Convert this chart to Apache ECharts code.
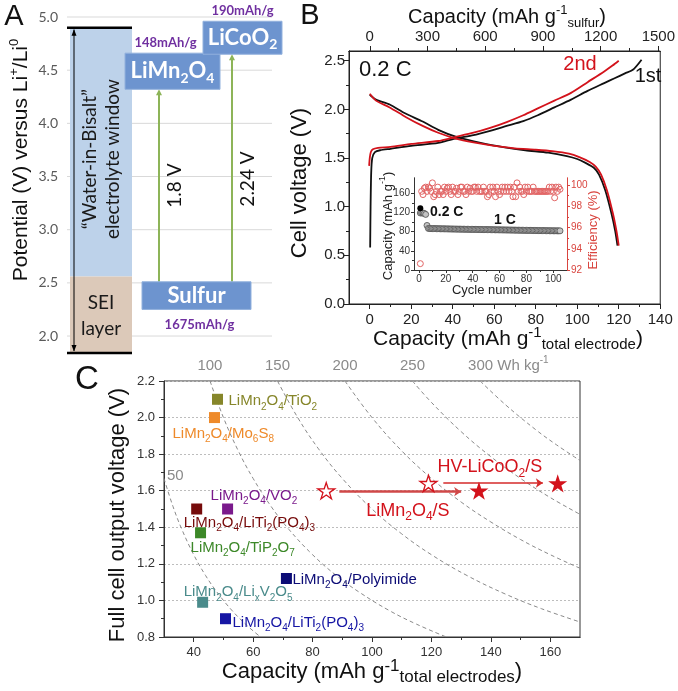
<!DOCTYPE html>
<html>
<head>
<meta charset="utf-8">
<script src="https://cdn.jsdelivr.net/npm/echarts@6.0.0/dist/echarts.min.js"></script>
<style>html,body{margin:0;padding:0;background:#fff;}#chart{width:678px;height:691px;}</style>
</head>
<body>
<div id="chart"></div>
<script>
// ================= DATA =================
// ---- Panel A: potential (V vs Li+/Li0) ----
const aTickValues = [2.0, 2.5, 3.0, 3.5, 4.0, 4.5, 5.0];
const aWindowTop = 4.90;
const aSeiTop = 2.56;
const aFloor = 1.84;
const aMaterials = ['LiMn_2O_4', 'LiCoO_2', 'Sulfur'];
const aPotLow = [4.32, 4.65, 2.25];
const aPotHigh = [4.66, 4.96, 2.51];
const aSpecificCap = ['148mAh/g', '190mAh/g', '1675mAh/g'];
const aCellVoltage = ['1.8 V', '2.24 V'];

// ---- Panel B: voltage profiles (capacity mAh/g total electrode, V) ----
const bDis1Cap = [0, 3, 9.6, 17, 25.5, 33, 41.4, 54, 65, 75, 86, 95, 100, 104, 108, 110.5, 113.5, 116.5, 118.3, 119.4];
const bDis1V   = [2.15, 2.10, 2.05, 1.96, 1.875, 1.79, 1.72, 1.653, 1.61, 1.58, 1.555, 1.52, 1.49, 1.45, 1.40, 1.33, 1.17, 0.93, 0.75, 0.60];
const bDis2Cap = [0, 3, 9.6, 17.5, 25.5, 33, 41.4, 50, 60, 70, 80, 88, 96, 101, 106, 109, 111.5, 114.3, 117.2, 118.9, 120];
const bDis2V   = [2.16, 2.09, 2.02, 1.92, 1.83, 1.76, 1.70, 1.66, 1.625, 1.60, 1.585, 1.57, 1.545, 1.51, 1.46, 1.41, 1.33, 1.17, 0.93, 0.75, 0.60];
const bCh1Cap  = [0.2, 0.4, 0.7, 1.2, 2.5, 5, 10, 20, 33, 41, 50, 58, 66, 74, 81, 89, 97, 105, 113, 118, 123, 127, 131];
const bCh1V    = [0.58, 1.0, 1.35, 1.50, 1.56, 1.58, 1.595, 1.625, 1.655, 1.70, 1.735, 1.78, 1.83, 1.88, 1.94, 2.02, 2.10, 2.19, 2.27, 2.32, 2.37, 2.41, 2.51];
const bCh2Cap  = [-0.3, 0, 0.5, 1.5, 4, 10, 20, 33, 41, 50, 58, 66, 74, 81, 89, 97, 105, 113, 117, 120];
const bCh2V    = [1.42, 1.50, 1.56, 1.59, 1.605, 1.615, 1.645, 1.675, 1.715, 1.76, 1.81, 1.87, 1.94, 2.01, 2.09, 2.17, 2.28, 2.39, 2.45, 2.50];
const bBottomTicks = [0, 20, 40, 60, 80, 100, 120, 140];
const bTopTicks = [0, 300, 600, 900, 1200, 1500];
const bVoltTicks = [0, 0.5, 1.0, 1.5, 2.0, 2.5];

// ---- Inset: cycling ----
const insetCapacity = [119, 119, 119, 118, 116, 93,
  86.8,86.6,86.5,86.4,86.4,86.3,86.2,86.2,86.1,86.0,
  86.0,85.9,85.9,85.8,85.8,85.7,85.6,85.6,85.5,85.5,
  85.4,85.4,85.3,85.3,85.2,85.2,85.1,85.1,85.0,85.0,
  84.9,84.9,84.8,84.8,84.7,84.7,84.6,84.6,84.5,84.5,
  84.4,84.4,84.3,84.3,84.2,84.2,84.1,84.1,84.0,84.0,
  83.9,83.9,83.8,83.8,83.7,83.7,83.6,83.6,83.5,83.5,
  83.4,83.4,83.3,83.3,83.2,83.2,83.1,83.1,83.0,83.0,
  82.9,82.9,82.8,82.8,82.7,82.7,82.6,82.6,82.5,82.5,
  82.4,82.4,82.3,82.3,82.2,82.2,82.1,82.1,82.0,82.0,
  81.9,81.9,81.9,81.8,81.8,81.8,81.7,81.7,81.7];
const insetFirstCycleCapacity = 129;
const insetEfficiency = [
  92.6, 99.4, 99.1, 99.7, 99.8, 99.4, 99.8, 99.7, 99.4, 100.2,
  98.9, 99.1, 99.4, 99.8, 99.1, 99.4, 99.4, 99.1, 99.8, 99.4,
  99.7, 99.8, 99.4, 99.1, 99.8, 99.4, 99.4, 99.7, 99.1, 99.4,
  99.8, 99.8, 99.4, 99.4, 99.1, 99.8, 99.4, 99.7, 99.4, 99.4,
  99.8, 99.8, 99.4, 99.8, 99.4, 99.4, 99.4, 99.8, 99.4, 99.4,
  98.9, 99.1, 99.8, 99.4, 99.8, 99.4, 98.9, 99.8, 99.4, 99.1,
  99.4, 99.8, 99.4, 99.8, 99.4, 99.8, 99.4, 99.8, 99.4, 98.9,
  99.8, 98.9, 100.2, 99.4, 99.8, 99.4, 99.4, 99.1, 99.8, 99.4,
  99.8, 99.4, 99.4, 99.4, 99.8, 99.4, 99.4, 99.4, 99.4, 99.4,
  99.4, 99.4, 99.4, 99.4, 99.4, 99.4, 99.8, 99.4, 99.8, 99.4,
  98.8, 99.8, 99.4, 99.8, 99.6];
const insetCycleTicks = [0, 20, 40, 60, 80, 100];
const insetCapTicks = [0, 40, 80, 120, 160];
const insetEffTicks = [92, 94, 96, 98, 100];

// ---- Panel C: full cells ----
const cMaterials = ['LiMn_2O_4/TiO_2', 'LiMn_2O_4/Mo_6S_8', 'LiMn_2O_4/VO_2', 'LiMn_2O_4/LiTi_2(PO_4)_3',
  'LiMn_2O_4/TiP_2O_7', 'LiMn_2O_4/Li_xV_2O_5', 'LiMn_2O_4/LiTi_2(PO_4)_3', 'LiMn_2O_4/Polyimide'];
const cCapacity = [48.0, 47.0, 51.4, 41.0, 42.3, 43.0, 50.7, 71.2];
const cVoltage  = [2.10, 2.00, 1.50, 1.50, 1.37, 0.99, 0.90, 1.12];
const cColors   = ['#86862a', '#ee8a2a', '#7a1a8c', '#760b0b', '#3c8828', '#4a8b8b', '#1616a4', '#0c0c76'];
const cStarNames = ['LiMn_2O_4/S', 'HV-LiCoO_2/S'];
const cStarCapBefore = [84.6, 119.0];
const cStarCapAfter  = [136.0, 162.5];
const cStarVoltage   = [1.60, 1.64];
const cArrowFrom = [89, 124];
const cArrowTo   = [130, 157.5];
const cArrowV    = [1.595, 1.642];
const cXTicks = [40, 60, 80, 100, 120, 140, 160];
const cEnergyLevels = [50, 100, 150, 200, 250, 300];
// iso-energy lines (Wh/kg): [capacity, voltage]
const cIso50  = [[30,1.667],[33,1.515],[36,1.389],[40,1.25],[44,1.136],[48,1.042],[53,0.943],[58,0.862],[62.5,0.8]];
const cIso100 = [[45.5,2.2],[50,2.0],[55,1.818],[60,1.667],[66,1.515],[72,1.389],[80,1.25],[88,1.136],[96,1.042],[106,0.943],[115,0.87],[125,0.8]];
const cIso150 = [[68.2,2.2],[75,2.0],[82,1.829],[90,1.667],[100,1.5],[110,1.364],[120,1.25],[132,1.136],[145,1.034],[157,0.955],[170,0.882]];
const cIso200 = [[90.9,2.2],[100,2.0],[110,1.818],[120,1.667],[130,1.538],[140,1.429],[150,1.333],[160,1.25],[170,1.176]];
const cIso250 = [[113.6,2.2],[120,2.083],[130,1.923],[140,1.786],[150,1.667],[160,1.5625],[170,1.471]];
const cIso300 = [[136.4,2.2],[145,2.069],[155,1.935],[162,1.852],[170,1.765]];
const cIsoLines = [cIso50, cIso100, cIso150, cIso200, cIso250, cIso300];

// ================= STYLE / LAYOUT =================
const F = '"Liberation Sans", Arial, sans-serif';
const FA = 'Lato, "Open Sans", sans-serif';
const RED = '#d3121b';

function toRich(name) { // "_x" -> subscript, "^x" -> superscript
  let out = '', buf = '';
  for (let i = 0; i < name.length; i++) {
    const ch = name[i];
    if (ch === '_' || ch === '^') {
      if (buf) { out += '{n|' + buf + '}'; buf = ''; }
      out += '{' + (ch === '_' ? 's' : 'p') + '|' + name[i + 1] + '}';
      i++;
    } else buf += ch;
  }
  if (buf) out += '{n|' + buf + '}';
  return out;
}
function mkRich(size, sub, color, font, weight) {
  font = font || F; weight = weight || 'normal';
  return {
    n: {fontSize: size, fill: color, color: color, fontFamily: font, fontWeight: weight, lineHeight: size + 6},
    s: {fontSize: sub, fill: color, color: color, fontFamily: font, fontWeight: weight, verticalAlign: 'bottom', lineHeight: sub + 1},
    p: {fontSize: sub, fill: color, color: color, fontFamily: font, fontWeight: weight, verticalAlign: 'top', lineHeight: sub + 1}
  };
}
function gtext(x, y, text, o) {
  return {type: 'text', x: x, y: y, rotation: o.rot || 0, silent: true, z: 100,
    style: {text: text, fill: o.color || '#111', fontSize: o.size, fontFamily: o.font || F, fontWeight: o.weight || 'normal',
      align: o.align || 'center', verticalAlign: 'middle', rich: o.rich}};
}
const STAR = (function () {
  let d = 'path://';
  for (let i = 0; i < 10; i++) {
    const r = i % 2 === 0 ? 10 : 3.82, a = -Math.PI / 2 + i * Math.PI / 5;
    d += (i === 0 ? 'M' : 'L') + (r * Math.cos(a)).toFixed(2) + ' ' + (r * Math.sin(a)).toFixed(2) + ' ';
  }
  return d + 'Z';
})();

const aLayout = {xmax: 205, win: [3, 65], arrowX: 7, boxX: [[58, 153], [136, 215], [75, 184]], gapX: [92, 165]};

function renderA(params, api) {
  const P = (x, y) => api.coord([x, y]);
  const L = aLayout, k = [];
  const line = (x1, y1, x2, y2, stroke, w) => { const a = P(x1, y1), b = P(x2, y2);
    k.push({type: 'line', shape: {x1: a[0], y1: a[1], x2: b[0], y2: b[1]}, style: {stroke: stroke, lineWidth: w}}); };
  const rect = (x0, x1, y0, y1, style) => { const a = P(x0, y1), b = P(x1, y0);
    k.push({type: 'rect', shape: {x: a[0], y: a[1], width: b[0] - a[0], height: b[1] - a[1]}, style: style}); };
  aTickValues.forEach(v => line(0, v, L.xmax, v, '#d9d9d9', 1));
  rect(L.win[0], L.win[1], aSeiTop, aWindowTop, {fill: '#bdd2ea'});
  rect(L.win[0], L.win[1], aFloor, aSeiTop, {fill: '#dcc9b9'});
  line(0, aWindowTop, L.win[1], aWindowTop, '#000', 2.5);
  line(0, aFloor, L.win[1], aFloor, '#000', 2.5);
  const t = P(L.arrowX, aWindowTop), b = P(L.arrowX, aFloor);
  k.push({type: 'line', shape: {x1: t[0], y1: t[1] + 2, x2: b[0], y2: b[1] - 2}, style: {stroke: '#000', lineWidth: 1}});
  k.push({type: 'polygon', shape: {points: [[t[0], t[1] + 1.5], [t[0] - 2.5, t[1] + 8], [t[0] + 2.5, t[1] + 8]]}, style: {fill: '#000'}});
  k.push({type: 'polygon', shape: {points: [[b[0], b[1] - 1.5], [b[0] - 2.5, b[1] - 8], [b[0] + 2.5, b[1] - 8]]}, style: {fill: '#000'}});
  // window texts
  const wc = P((L.win[0] + L.win[1]) / 2, 3.72);
  k.push({type: 'text', x: wc[0] - 11, y: wc[1] + 6, rotation: Math.PI / 2, style: {text: '\u201cWater-in-Bisalt\u201d', fill: '#1a1a1a', fontSize: 19, fontFamily: FA, align: 'center', verticalAlign: 'middle'}});
  k.push({type: 'text', x: wc[0] + 12, y: wc[1] + 6, rotation: Math.PI / 2, style: {text: 'electrolyte window', fill: '#1a1a1a', fontSize: 19, fontFamily: FA, align: 'center', verticalAlign: 'middle'}});
  const sc = P((L.win[0] + L.win[1]) / 2, (aFloor + aSeiTop) / 2);
  k.push({type: 'text', x: sc[0], y: sc[1] - 12, style: {text: 'SEI', fill: '#1a1a1a', fontSize: 19, fontFamily: FA, align: 'center', verticalAlign: 'middle'}});
  k.push({type: 'text', x: sc[0], y: sc[1] + 14, style: {text: 'layer', fill: '#1a1a1a', fontSize: 19, fontFamily: FA, align: 'center', verticalAlign: 'middle'}});
  // green arrows sulfur -> cathodes
  [0, 1].forEach(i => {
    const s = P(L.gapX[i], aPotHigh[2]), e = P(L.gapX[i], aPotLow[i]);
    k.push({type: 'line', shape: {x1: s[0], y1: s[1], x2: e[0], y2: e[1] + 3}, style: {stroke: '#8db458', lineWidth: 2}});
    k.push({type: 'polygon', shape: {points: [[e[0], e[1]], [e[0] - 3, e[1] + 6], [e[0] + 3, e[1] + 6]]}, style: {fill: '#8db458'}});
    k.push({type: 'text', x: s[0] + 16, y: (s[1] + e[1]) / 2 + (i === 1 ? 11 : 0), rotation: Math.PI / 2,
      style: {text: aCellVoltage[i], fill: '#111', fontSize: 19, fontFamily: FA, align: 'center', verticalAlign: 'middle'}});
  });
  // boxes
  const capOff = [[-7, -10], [0, -10], [3, 15]];
  [0, 1, 2].forEach(i => {
    const a = P(L.boxX[i][0], aPotHigh[i]), c = P(L.boxX[i][1], aPotLow[i]);
    k.push({type: 'rect', shape: {x: a[0], y: a[1], width: c[0] - a[0], height: c[1] - a[1]}, style: {fill: '#6d94cf', stroke: '#92b1dd', lineWidth: 1}});
    const cx = (a[0] + c[0]) / 2, cy = (a[1] + c[1]) / 2;
    k.push({type: 'text', x: cx, y: cy, style: {text: toRich(aMaterials[i]), align: 'center', verticalAlign: 'middle', rich: mkRich(22, 14, '#ffffff', FA, 'bold')}});
    const ly = i === 2 ? c[1] + capOff[i][1] : a[1] + capOff[i][1];
    k.push({type: 'text', x: cx + capOff[i][0], y: ly, style: {text: aSpecificCap[i], fill: '#7030a0', fontSize: 13, fontWeight: 'bold', fontFamily: FA, align: 'center', verticalAlign: 'middle'}});
  });
  return {type: 'group', children: k};
}

function ax(o) {
  return Object.assign({type: 'value', splitLine: {show: false}, axisLine: {show: false, onZero: false}, axisTick: {show: false}, axisLabel: {show: false}}, o);
}
function tickAxis(o, vals, len, color, lab) {
  const c = color || '#222';
  const res = ax(Object.assign({
    axisLine: {show: true, onZero: false, lineStyle: {color: c, width: 1}},
    axisTick: {show: true, customValues: vals, length: len, inside: false, lineStyle: {color: c}}
  }, o));
  if (lab) res.axisLabel = Object.assign({show: true, customValues: vals, color: c, fontFamily: F, formatter: v => String(v)}, lab);
  return res;
}
const zip = (a, b) => a.map((v, i) => [v, b[i]]);
const odd = (arr) => arr.slice(0, -1).map((v, i) => (v + arr[i + 1]) / 2);

const xAxes = [
  ax({gridIndex: 0, min: 0, max: aLayout.xmax, position: 'bottom'}),
  tickAxis({gridIndex: 1, min: -10, max: 140, position: 'bottom'}, bBottomTicks, 5, '#222', {fontSize: 15, margin: 8}),
  tickAxis({gridIndex: 1, min: -10, max: 140, position: 'bottom'}, odd(bBottomTicks), 3),
  tickAxis({gridIndex: 1, min: -108, max: 1510, position: 'top'}, bTopTicks, 5, '#222', {fontSize: 15, margin: 7}),
  tickAxis({gridIndex: 1, min: -108, max: 1510, position: 'top'}, odd(bTopTicks), 3),
  tickAxis({gridIndex: 2, min: -3.7, max: 110.2, position: 'bottom'}, insetCycleTicks, 3, '#333', {fontSize: 10, margin: 4}),
  tickAxis({gridIndex: 2, min: -3.7, max: 110.2, position: 'bottom'}, odd(insetCycleTicks), 2, '#333'),
  tickAxis({gridIndex: 3, min: 30, max: 170, position: 'bottom'}, cXTicks, 5, '#333', {fontSize: 13, margin: 9}),
  tickAxis({gridIndex: 3, min: 30, max: 170, position: 'bottom'}, odd(cXTicks), 3, '#333')
];
const yAxes = [
  ax({gridIndex: 0, min: 1.8, max: 5.0, position: 'left', axisLabel: {show: true, customValues: aTickValues, formatter: v => v.toFixed(1), color: '#595959', fontSize: 14, fontFamily: FA, margin: 9}}),
  tickAxis({gridIndex: 1, min: 0, max: 2.6, position: 'left'}, bVoltTicks, 5, '#222', {fontSize: 15, margin: 4, formatter: v => v.toFixed(1)}),
  tickAxis({gridIndex: 1, min: 0, max: 2.6, position: 'left'}, odd(bVoltTicks), 3),
  tickAxis({gridIndex: 2, min: 0, max: 192, position: 'left'}, insetCapTicks, 3, '#333', {fontSize: 10, margin: 4}),
  tickAxis({gridIndex: 2, min: 0, max: 192, position: 'left'}, odd(insetCapTicks), 2, '#333'),
  tickAxis({gridIndex: 2, min: 92, max: 100.66, position: 'right'}, insetEffTicks, 3, '#d9453f', {fontSize: 10, margin: 4}),
  tickAxis({gridIndex: 2, min: 92, max: 100.66, position: 'right'}, odd(insetEffTicks), 2, '#d9453f'),
  ax({gridIndex: 3, min: 0.8, max: 2.2, interval: 0.2, position: 'left',
    axisLine: {show: true, onZero: false, lineStyle: {color: '#333'}},
    axisTick: {show: true, length: 5, lineStyle: {color: '#333'}},
    minorTick: {show: true, splitNumber: 2, length: 3, lineStyle: {color: '#333'}},
    splitLine: {show: true, lineStyle: {color: '#bdbdbd', type: [2, 2], width: 1}},
    axisLabel: {show: true, formatter: v => v.toFixed(1), fontSize: 13, color: '#333', fontFamily: F, margin: 9}})
];

const bLine = (cap, v, color, z) => ({type: 'line', xAxisIndex: 1, yAxisIndex: 1, data: zip(cap, v), showSymbol: false, smooth: 0.25,
  lineStyle: {color: color, width: 1.8}, z: z, silent: true, clip: true});

const series = [
  {type: 'custom', xAxisIndex: 0, yAxisIndex: 0, data: [[0, 3]], renderItem: renderA, silent: true, clip: false, z: 1},
  bLine(bDis1Cap, bDis1V, '#111', 3), bLine(bCh1Cap, bCh1V, '#111', 3),
  bLine(bDis2Cap, bDis2V, RED, 4), bLine(bCh2Cap, bCh2V, RED, 4),
  {type: 'scatter', xAxisIndex: 5, yAxisIndex: 5, data: insetEfficiency.map((v, i) => [i + 1, v]), symbol: 'circle', symbolSize: 6,
    itemStyle: {color: 'rgba(255,255,255,0)', borderColor: '#e26464', borderWidth: 1, opacity: 1}, silent: true, z: 5},
  {type: 'scatter', xAxisIndex: 5, yAxisIndex: 3, data: insetCapacity.map((v, i) => [i + 1, v]), symbol: 'circle', symbolSize: 6,
    itemStyle: {color: '#c4c4c4', borderColor: '#4d4d4d', borderWidth: 0.8, opacity: 1}, silent: true, z: 5},
  {type: 'scatter', xAxisIndex: 5, yAxisIndex: 3, data: [[1, insetFirstCycleCapacity]], symbol: 'circle', symbolSize: 6,
    itemStyle: {color: '#000', opacity: 1}, silent: true, z: 6}
];
// iso-energy dashed lines
cIsoLines.forEach(pts => series.push({type: 'line', xAxisIndex: 7, yAxisIndex: 7, data: pts, showSymbol: false, smooth: 0.4, clip: true,
  lineStyle: {color: '#8a8a8a', width: 1, type: [4, 3]}, silent: true, z: 2}));
// energy labels
series.push({type: 'scatter', xAxisIndex: 7, yAxisIndex: 7, symbolSize: 1, itemStyle: {color: 'rgba(0,0,0,0)', opacity: 1}, silent: true, z: 3,
  data: cEnergyLevels.map((e, i) => {
    if (i === 0) return {value: [30, e / 30], label: {show: true, position: 'inside', align: 'left', offset: [3, -3], formatter: String(e), color: '#8a8a8a', fontSize: 15, fontFamily: F}};
    const last = i === cEnergyLevels.length - 1;
    return {value: [e / 2.2, 2.2], label: {show: true, position: 'top', distance: 4, align: last ? 'left' : 'center', offset: last ? [-12, 0] : [0, 0],
      formatter: last ? '{n|' + e + ' Wh kg}{p|-1}' : '{n|' + e + '}', rich: mkRich(15, 10, '#8a8a8a')}};
  })});
// arrows
series.push({type: 'lines', coordinateSystem: 'cartesian2d', xAxisIndex: 7, yAxisIndex: 7, silent: true, z: 4,
  symbol: ['none', 'arrow'], symbolSize: 7,
  data: cArrowFrom.map((f, i) => ({coords: [[f, cArrowV[i]], [cArrowTo[i], cArrowV[i]]],
    lineStyle: {color: i === 0 ? '#d04848' : '#d52a2a', width: i === 0 ? 2.5 : 1.5, opacity: 1}}))});
// material squares
const cLabelOffset = [[11, 2], [-42, 16], [-17, -13], [-13, 14], [-10, 15], [-19, -10], [7, 4], [6, 1]];
series.push({type: 'scatter', xAxisIndex: 7, yAxisIndex: 7, symbol: 'rect', symbolSize: 11, silent: true, z: 6,
  data: cMaterials.map((m, i) => ({value: [cCapacity[i], cVoltage[i]], itemStyle: {color: cColors[i], opacity: 1},
    label: {show: true, position: 'inside', align: 'left', verticalAlign: 'middle', offset: cLabelOffset[i],
      formatter: toRich(m), rich: mkRich(15, 10, cColors[i])}}))});
// stars
const starLabelOffset = [[40, 20], [9, -16]];
series.push({type: 'scatter', xAxisIndex: 7, yAxisIndex: 7, symbol: STAR, symbolKeepAspect: true, symbolSize: 17, silent: true, z: 7,
  itemStyle: {color: '#ffffff', borderColor: RED, borderWidth: 1.3, opacity: 1},
  data: cStarNames.map((m, i) => ({value: [cStarCapBefore[i], cStarVoltage[i]],
    label: {show: true, position: 'inside', align: 'left', verticalAlign: 'middle', offset: starLabelOffset[i],
      formatter: toRich(m), rich: mkRich(18, 12, RED)}}))});
series.push({type: 'scatter', xAxisIndex: 7, yAxisIndex: 7, symbol: STAR, symbolKeepAspect: true, symbolSize: 19, silent: true, z: 7,
  itemStyle: {color: RED, opacity: 1}, data: cStarNames.map((m, i) => [cStarCapAfter[i], cStarVoltage[i]])});

const graphics = [
  gtext(14, 17, 'A', {size: 29}),
  gtext(310, 16, 'B', {size: 29}),
  gtext(87, 380, 'C', {size: 33}),
  gtext(21, 160, '{n|Potential (V) versus Li}{p|+}{n|/Li}{p|0}', {rot: Math.PI / 2, rich: mkRich(21, 13, '#111')}),
  gtext(507, 17, '{n|Capacity (mAh g}{p|-1}{s|sulfur}{n|)}', {rich: mkRich(20, 13, '#111')}),
  gtext(508, 339, '{n|Capacity (mAh g}{p|-1}{s|total electrode}{n|)}', {rich: mkRich(21, 15, '#111')}),
  gtext(300, 183, 'Cell voltage (V)', {rot: Math.PI / 2, size: 22}),
  gtext(359, 70, '0.2 C', {size: 22, align: 'left'}),
  gtext(580, 64, '2nd', {size: 20, color: RED}),
  gtext(648, 76, '1st', {size: 20}),
  gtext(430, 212, '0.2 C', {size: 14, weight: 'bold', align: 'left'}),
  gtext(505, 220, '1 C', {size: 14, weight: 'bold'}),
  gtext(388, 226, '{n|Capacity (mAh g}{p|-1}{n|)}', {rot: Math.PI / 2, rich: mkRich(13, 9, '#222')}),
  gtext(593, 230, 'Efficiency (%)', {rot: Math.PI / 2, size: 13, color: '#d9453f'}),
  gtext(492, 290, 'Cycle number', {size: 13, color: '#222'}),
  gtext(118, 515, 'Full cell output voltage (V)', {rot: Math.PI / 2, size: 22}),
  gtext(372, 672, '{n|Capacity (mAh g}{p|-1}{s|total electrodes}{n|)}', {rich: mkRich(22, 17, '#111')})
];

const option = {
  animation: false,
  backgroundColor: '#ffffff',
  grid: [
    {left: 67, top: 17, width: 205, height: 340.3, show: false},
    {left: 349, top: 51, width: 314, height: 253, show: true, borderColor: '#222', borderWidth: 1, backgroundColor: 'rgba(0,0,0,0)'},
    {left: 414, top: 178, width: 153, height: 92, show: false},
    {left: 164, top: 381, width: 416, height: 256, show: true, borderColor: '#333', borderWidth: 1, backgroundColor: 'rgba(0,0,0,0)'}
  ],
  xAxis: xAxes,
  yAxis: yAxes,
  series: series,
  graphic: graphics
};
const chart = echarts.init(document.getElementById('chart'), null, {width: 678, height: 691});
chart.setOption(option);
</script>
</body>
</html>
